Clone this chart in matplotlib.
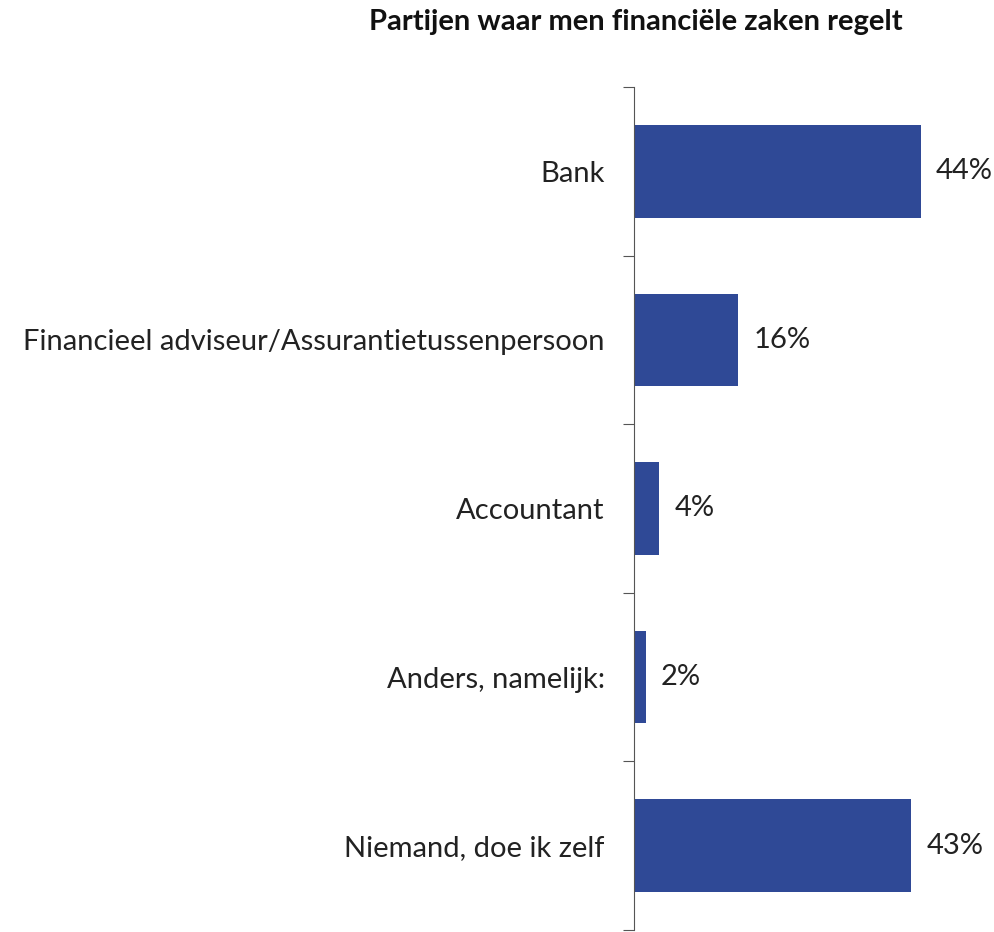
import matplotlib.pyplot as plt

categories = ["Bank", "Financieel adviseur/Assurantietussenpersoon", "Accountant",
              "Anders, namelijk:", "Niemand, doe ik zelf"]
values = [44, 16, 3.9, 1.8, 42.5]
value_labels = ["44%", "16%", "4%", "2%", "43%"]

plt.rcParams['font.family'] = ['Lato', 'DejaVu Sans']

fig = plt.figure(figsize=(9.94, 9.32), dpi=100)
ax = fig.add_axes([634 / 994, 2 / 932, 360 / 994, (930 - 87) / 932])

ypos = list(range(len(categories)))
ax.barh(ypos, values, height=0.55, color="#2F4996")
ax.set_ylim(len(categories) - 0.5, -0.5)
ax.set_xlim(0, 55.2)

for y, v, lab in zip(ypos, values, value_labels):
    ax.text(v + 2.3, y, lab, va="center", ha="left", fontsize=21, color="#222222")

ax.set_yticks([y - 0.5 for y in ypos] + [len(categories) - 0.5])
ax.set_yticklabels([])
ax.set_yticks(ypos, minor=True)
ax.set_yticklabels(categories, minor=True, fontsize=21, color="#222222")
ax.tick_params(axis="y", which="major", length=8, width=0.8, direction="out", color="#555555")
ax.tick_params(axis="y", which="minor", length=0, pad=21)
ax.set_xticks([])

for s in ["top", "right", "bottom"]:
    ax.spines[s].set_visible(False)
ax.spines["left"].set_color("#555555")
ax.spines["left"].set_linewidth(0.8)

fig.text(636 / 994, 1 - 22 / 932, "Partijen waar men financiële zaken regelt",
         ha="center", va="center", fontsize=21, fontweight="bold", color="#111111")

fig.savefig("out.png", dpi=100)
